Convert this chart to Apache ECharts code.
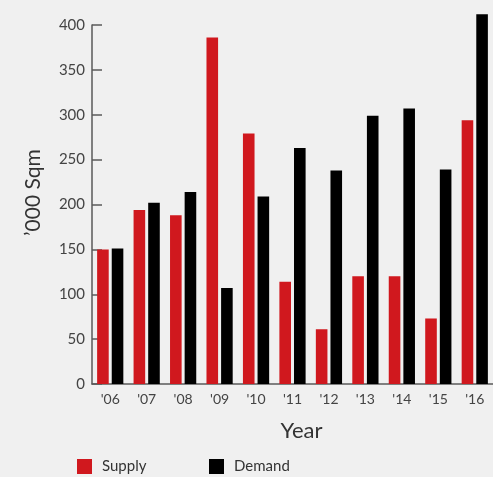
<!DOCTYPE html>
<html>
<head>
<meta charset="utf-8">
<script src="https://cdn.jsdelivr.net/npm/echarts@6/dist/echarts.min.js"></script>
<style>
  html, body { margin: 0; padding: 0; background: #f0f0f0; }
  #chart { width: 493px; height: 477px; }
</style>
</head>
<body>
<div id="chart"></div>
<script>
// Office space supply vs demand, thousand square metres per year
const years = ["'06", "'07", "'08", "'09", "'10", "'11", "'12", "'13", "'14", "'15", "'16"];
const supply = [150, 194, 188, 386, 279, 114, 61, 120, 120, 73, 294];
const demand = [151, 202, 214, 107, 209, 263, 238, 299, 307, 239, 412];
const yTicks = { min: 0, max: 400, interval: 50 };

const FONT = 'Lato, "Noto Sans", sans-serif';
const RED = '#d0181e';
const BLACK = '#000000';
const AXIS = '#5a5a5a';

const chart = echarts.init(document.getElementById('chart'), null, { renderer: 'canvas' });

const legendBase = {
  top: 454, padding: 5, itemWidth: 15, itemHeight: 15, itemGap: 10, icon: 'rect',
  textStyle: { fontFamily: FONT, fontSize: 15, color: '#333', padding: [0, 0, 0, 5] }
};

chart.setOption({
  backgroundColor: '#f0f0f0',
  animation: false,
  textStyle: { fontFamily: FONT },
  grid: { left: 92, top: 25, width: 410, height: 359, containLabel: false },
  legend: [
    Object.assign({}, legendBase, { data: ['Supply'], left: 72 }),
    Object.assign({}, legendBase, { data: ['Demand'], left: 204 })
  ],
  xAxis: {
    type: 'category',
    data: years,
    name: 'Year',
    nameLocation: 'middle',
    nameGap: 36,
    nameTextStyle: { fontFamily: FONT, fontSize: 22, color: '#333', padding: [0, 0, 0, 18] },
    axisLine: { lineStyle: { color: AXIS, width: 1.5 } },
    axisTick: { inside: true, length: 7, alignWithLabel: false, lineStyle: { color: '#777', width: 1.5 } },
    axisLabel: { fontFamily: FONT, fontSize: 14, color: '#444', margin: 8 },
    splitLine: { show: false }
  },
  yAxis: {
    type: 'value',
    min: yTicks.min,
    max: yTicks.max,
    interval: yTicks.interval,
    name: '\u2019000 Sqm',
    nameLocation: 'middle',
    nameRotate: 90,
    nameGap: 48,
    nameTextStyle: { fontFamily: FONT, fontSize: 21, color: '#333', padding: [0, 0, 0, 24] },
    axisLine: { show: true, lineStyle: { color: AXIS, width: 1.5 } },
    axisTick: { show: true, inside: true, length: 10, lineStyle: { color: AXIS, width: 1.5 } },
    axisLabel: { fontFamily: FONT, fontSize: 15, color: '#444', margin: 7 },
    splitLine: { show: false }
  },
  series: [
    {
      name: 'Supply', type: 'bar', data: supply, clip: false,
      barWidth: 11.6, barGap: '26%',
      itemStyle: { color: RED }
    },
    {
      name: 'Demand', type: 'bar', data: demand, clip: false,
      barWidth: 11.6, barGap: '26%',
      itemStyle: { color: BLACK }
    }
  ]
});
</script>
</body>
</html>
